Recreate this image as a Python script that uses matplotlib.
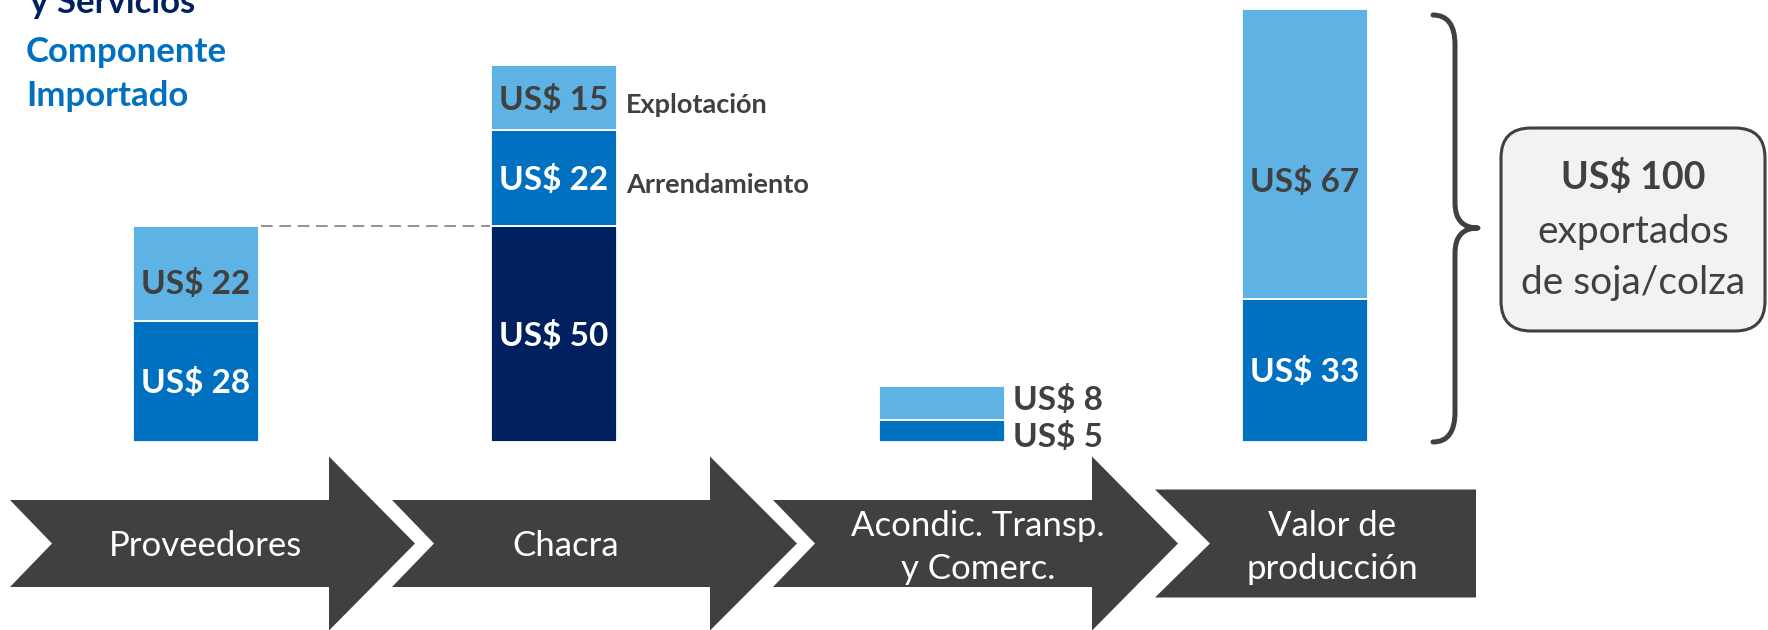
import matplotlib
matplotlib.use("Agg")
import matplotlib.pyplot as plt
import matplotlib.transforms as mtransforms
from matplotlib.patches import Polygon, FancyBboxPatch, PathPatch
from matplotlib.path import Path

plt.rcParams["font.family"] = ["Lato", "DejaVu Sans"]

# ---------------- data ----------------
stages = ["Proveedores", "Chacra", "Acondic. Transp.\ny Comerc.", "Valor de\nproducción"]
proveedores_vals = [28, 22]
chacra_vals = [50, 22, 15]
acondic_vals = [5, 8]
valor_vals = [33, 67]
chacra_notes = ["", "Arrendamiento", "Explotación"]
legend_lines = ["y Servicios", "Componente", "Importado"]
total_label = "US$ 100"
total_text = ["exportados", "de soja/colza"]

# ---------------- styles ----------------
LIGHT = "#5EB3E4"
MID = "#0070C0"
NAVY = "#002060"
DARK = "#404040"
stage_values = [proveedores_vals, chacra_vals, acondic_vals, valor_vals]
stage_colors = [[MID, LIGHT], [NAVY, MID, LIGHT], [MID, LIGHT], [MID, LIGHT]]

W, H = 1768, 630
BASE_PX = 442          # pixel row of value 0
PX_PER_UNIT = 4.33
BAR_X = [196, 554, 942, 1305]
BAR_W = 126
LABEL_FS = 24
STAGE_FS = 25
LEGEND_FS = 25
NOTE_FS = 19.5

fig = plt.figure(figsize=(W / 100, H / 100), dpi=100)
canvas = fig.add_axes([0, 0, 1, 1])
canvas.set_xlim(0, W)
canvas.set_ylim(H, 0)
canvas.axis("off")

ymax = BASE_PX / PX_PER_UNIT
bar_ax = fig.add_axes([0, (H - BASE_PX) / H, 1, BASE_PX / H])
bar_ax.set_xlim(0, W)
bar_ax.set_ylim(0, ymax)
bar_ax.axis("off")
bar_ax.patch.set_visible(False)


def cap_center(ax, fs):
    # shift baseline down so caps are vertically centered on the anchor
    return mtransforms.offset_copy(ax.transData, fig=fig, x=0, y=-0.358 * fs, units="points")


# ---------------- bars ----------------
label_dy = {(0, 1): -2.0, (3, 1): -6.0}
for i, (vals, cols) in enumerate(zip(stage_values, stage_colors)):
    bottom = 0
    for j, (v, c) in enumerate(zip(vals, cols)):
        bar_ax.bar(BAR_X[i], v, width=BAR_W, bottom=bottom, color=c,
                   edgecolor="white", linewidth=1.3)
        txt = f"US$ {v}"
        tcol = DARK if c == LIGHT else "white"
        yc = bottom + v / 2 + label_dy.get((i, j), 0)
        if i == 2:
            ody = [-0.9, 1.2][j]
            bar_ax.text(BAR_X[i] + BAR_W / 2 + 8, yc + ody, txt, ha="left", va="baseline",
                        fontsize=LABEL_FS, fontweight="bold", color=DARK,
                        transform=cap_center(bar_ax, LABEL_FS))
        else:
            bar_ax.text(BAR_X[i], yc, txt, ha="center", va="baseline",
                        fontsize=LABEL_FS, fontweight="bold", color=tcol,
                        transform=cap_center(bar_ax, LABEL_FS))
        if i == 1 and chacra_notes[j]:
            bar_ax.text(BAR_X[i] + BAR_W / 2 + 9, bottom + v / 2 - 1.3, chacra_notes[j],
                        ha="left", va="baseline", fontsize=NOTE_FS, fontweight="bold", color=DARK,
                        transform=cap_center(bar_ax, NOTE_FS))
        bottom += v

# dashed connector from Proveedores top to Chacra base
bar_ax.plot([BAR_X[0] + BAR_W / 2 + 2, BAR_X[1] - BAR_W / 2 - 1],
            [sum(proveedores_vals)] * 2, color="#808080", lw=1.2, dashes=(7, 4))

# ---------------- chevron arrows ----------------
CY = 543.5
SH = 43.5   # shaft half height
HH = 87     # head half height
NOTCH = 42
arrow_geom = [(10, 329, 415), (392, 710, 797), (773, 1092, 1178)]
for left, shaft_end, tip in arrow_geom:
    pts = [(left, CY - SH), (shaft_end, CY - SH), (shaft_end, CY - HH), (tip, CY),
           (shaft_end, CY + HH), (shaft_end, CY + SH), (left, CY + SH), (left + NOTCH, CY)]
    canvas.add_patch(Polygon(pts, closed=True, facecolor=DARK, edgecolor="none"))
# final block with notch
fl, fr, fh = 1155, 1476, 54
canvas.add_patch(Polygon([(fl, CY - fh), (fr, CY - fh), (fr, CY + fh), (fl, CY + fh), (fl + 55, CY)],
                         closed=True, facecolor=DARK, edgecolor="none"))

stage_label_pos = [(206, CY + 2), (566, CY + 2), (978, CY + 4), (1332, CY + 4)]
for (x, y), s in zip(stage_label_pos, stages):
    canvas.text(x, y, s, ha="center", va="center", fontsize=STAGE_FS, color="white",
                linespacing=1.45)

# ---------------- legend text (top-left) ----------------
canvas.text(30, 13, legend_lines[0], ha="left", va="baseline", fontsize=LEGEND_FS,
            fontweight="bold", color=NAVY)
canvas.text(26, 62, legend_lines[1], ha="left", va="baseline", fontsize=LEGEND_FS,
            fontweight="bold", color=MID)
canvas.text(26, 106, legend_lines[2], ha="left", va="baseline", fontsize=LEGEND_FS,
            fontweight="bold", color=MID)

# ---------------- brace ----------------
bx, sx, tx = 1433, 1455, 1478
top, mid, bot = 15, 228, 442
verts = [(bx, top), (sx, top), (sx, top + 30),
         (sx, mid - 25),
         (sx, mid), (tx, mid),
         (sx, mid), (sx, mid + 25),
         (sx, bot - 30),
         (sx, bot), (bx, bot)]
codes = [Path.MOVETO, Path.CURVE3, Path.CURVE3,
         Path.LINETO,
         Path.CURVE3, Path.CURVE3,
         Path.CURVE3, Path.CURVE3,
         Path.LINETO,
         Path.CURVE3, Path.CURVE3]
canvas.add_patch(PathPatch(Path(verts, codes), facecolor="none", edgecolor=DARK,
                           lw=3.6, capstyle="round", joinstyle="round"))

# ---------------- total box ----------------
canvas.add_patch(FancyBboxPatch((1501, 128), 264, 203,
                                boxstyle="round,pad=0,rounding_size=30",
                                facecolor="#F2F2F2", edgecolor=DARK, lw=2.2))
canvas.text(1633, 177, total_label, ha="center", va="center", fontsize=27,
            fontweight="bold", color=DARK)
canvas.text(1633, 232, total_text[0], ha="center", va="center", fontsize=28, color=DARK)
canvas.text(1633, 283, total_text[1], ha="center", va="center", fontsize=28, color=DARK)

fig.savefig("out.png", dpi=100)
